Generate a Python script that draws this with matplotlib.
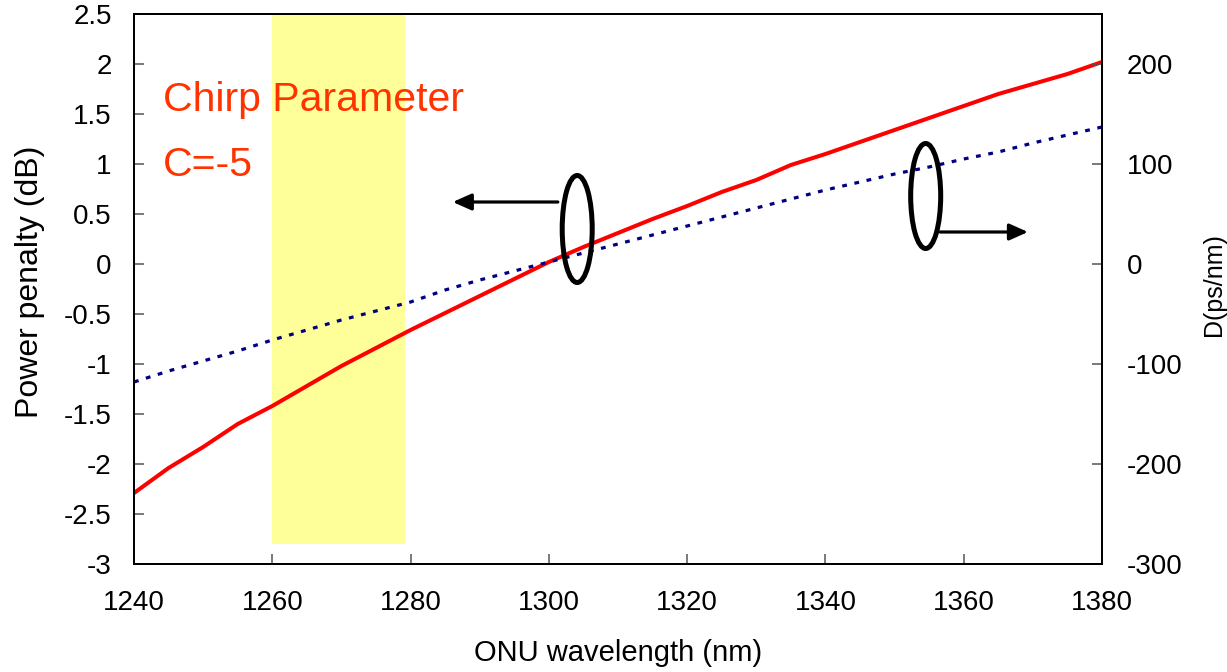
import matplotlib
matplotlib.use("Agg")  # headless
import matplotlib.pyplot as plt
from matplotlib.patches import Ellipse, Rectangle

plt.rcParams["font.family"] = ["Liberation Sans", "DejaVu Sans"]
plt.rcParams["axes.unicode_minus"] = False

# wavelength grid (nm) and the two curves
wavelength = [1240, 1245, 1250, 1255, 1260, 1265, 1270, 1275, 1280, 1285,
              1290, 1295, 1300, 1305, 1310, 1315, 1320, 1325, 1330, 1335,
              1340, 1345, 1350, 1355, 1360, 1365, 1370, 1375, 1380]
penalty_db = [-2.29, -2.04, -1.83, -1.60, -1.42, -1.22, -1.02, -0.84, -0.66, -0.49,
              -0.32, -0.15, 0.02, 0.17, 0.31, 0.45, 0.58, 0.72, 0.84, 0.99,
              1.10, 1.22, 1.34, 1.46, 1.58, 1.70, 1.80, 1.90, 2.02]
dispersion = [-118, -107, -97, -87, -76, -66, -56, -47, -38, -26,
              -16, -7, 2, 11, 20, 29, 38, 47, 56, 65,
              74, 82, 90, 97, 105, 112, 121, 129, 137]

band_x = [1260, 1279.2]      # O-band window shaded in yellow
band_y = [-2.8, 2.5]

x_ticks = [1240, 1260, 1280, 1300, 1320, 1340, 1360, 1380]
left_ticks = [2.5, 2, 1.5, 1, 0.5, 0, -0.5, -1, -1.5, -2, -2.5, -3]
right_ticks = [200, 100, 0, -100, -200, -300]

RED = "#ff0000"
NAVY = "#000080"
TXT = "#ff3300"

fig = plt.figure(figsize=(12.27, 6.72), dpi=100)
ax = fig.add_axes([134 / 1227, 1 - 564 / 672, 968 / 1227, 550 / 672])
ax2 = ax.twinx()

ax.add_patch(Rectangle((band_x[0], band_y[0]), band_x[1] - band_x[0], band_y[1] - band_y[0],
                       facecolor="#ffff99", edgecolor="none", zorder=0))
ax.plot(wavelength, penalty_db, color=RED, lw=2.9, solid_capstyle="butt", zorder=2)
ax2.plot(wavelength, dispersion, color=NAVY, lw=2.3, linestyle=(0, (1.5, 2.4)),
         dash_capstyle="butt", zorder=2)

ax.set_xlim(1240, 1380)
ax.set_ylim(-3, 2.5)
ax2.set_ylim(-300, 250)
ax.set_xticks(x_ticks)
ax.set_yticks(left_ticks)
ax.set_yticklabels([f"{v:g}" for v in left_ticks])
ax2.set_yticks(right_ticks)
ax2.set_yticklabels([f"{v:g}" for v in right_ticks])

for a in (ax, ax2):
    for s in a.spines.values():
        s.set_linewidth(1.4)
        s.set_color("black")
ax.tick_params(axis="x", direction="in", length=7, width=1.1, color="#555555",
               labelsize=20, pad=19)
ax.tick_params(axis="y", direction="in", length=7, width=1.1, color="#555555",
               labelsize=20, pad=16)
ax2.tick_params(axis="y", direction="in", length=7, width=1.1, color="#555555",
                labelsize=20, pad=18)

fig.text(30 / 1227, 1 - 282 / 672, "Power penalty (dB)", rotation=90,
         ha="center", va="center", fontsize=23)
fig.text(618 / 1227, 1 - 653 / 672, "ONU wavelength (nm)", ha="center", va="center",
         fontsize=21)
fig.text(1214 / 1227, 1 - 285 / 672, "D(ps/nm)", rotation=90, ha="center", va="center",
         fontsize=18)

ax.text(1244.2, 1.64, "Chirp Parameter", color=TXT, fontsize=29.5, ha="left", va="center")
ax.text(1244.2, 0.99, "C=-5", color=TXT, fontsize=29.5, ha="left", va="center")

# ellipses + arrows telling which curve belongs to which axis
for cx, cy, h in [(1304.1, 0.35, 1.07), (1354.5, 0.68, 1.05)]:
    ax2.add_patch(Ellipse((cx, cy), 4.34, h, transform=ax.transData, fill=False,
                          edgecolor="black", lw=3.6, zorder=5))
arrow_kw = dict(arrowstyle="-|>,head_length=0.45,head_width=0.2", lw=2.3,
                color="black", mutation_scale=25, shrinkA=0, shrinkB=0)
ax2.annotate("", xy=(1286.1, 0.62), xytext=(1301.3, 0.62), xycoords=ax.transData,
             textcoords=ax.transData, arrowprops=arrow_kw, zorder=5)
ax2.annotate("", xy=(1369.3, 0.32), xytext=(1356.6, 0.32), xycoords=ax.transData,
             textcoords=ax.transData, arrowprops=arrow_kw, zorder=5)

fig.savefig("out.png", dpi=100, facecolor="white")
plt.close(fig)
